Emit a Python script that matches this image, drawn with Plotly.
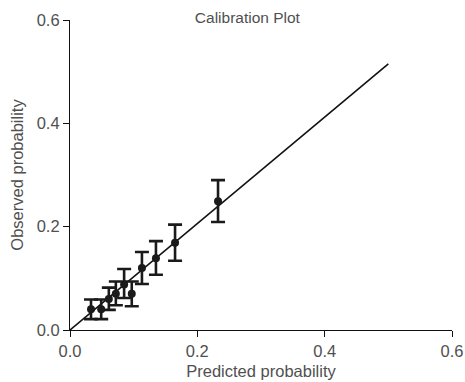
import plotly.graph_objects as go

pred = [0.033, 0.049, 0.061, 0.072, 0.085, 0.097, 0.113, 0.135, 0.165, 0.2325]
obs = [0.040, 0.040, 0.060, 0.070, 0.088, 0.070, 0.120, 0.139, 0.169, 0.249]
err_up = [0.019, 0.019, 0.022, 0.024, 0.030, 0.024, 0.031, 0.033, 0.035, 0.041]
err_down = [0.019, 0.019, 0.021, 0.022, 0.026, 0.024, 0.031, 0.032, 0.035, 0.040]
fit_x = [0.0, 0.5]
fit_y = [0.0, 0.515]
ticks = [0.0, 0.2, 0.4, 0.6]
tick_text = ["0.0", "0.2", "0.4", "0.6"]

fig = go.Figure()
fig.add_trace(go.Scatter(x=fit_x, y=fit_y, mode="lines",
                         line=dict(color="#111111", width=1.6),
                         showlegend=False, hoverinfo="skip"))
fig.add_trace(go.Scatter(
    x=pred, y=obs, mode="markers",
    marker=dict(color="#1a1a1a", size=8),
    error_y=dict(type="data", symmetric=False, array=err_up, arrayminus=err_down,
                 color="#1a1a1a", thickness=2.6, width=7),
    showlegend=False, cliponaxis=False))

fig.update_layout(
    width=465, height=382,
    margin=dict(l=70, r=13, t=20, b=52),
    paper_bgcolor="white", plot_bgcolor="white",
    font=dict(family="Liberation Sans, Arial, sans-serif", color="#505050", size=16),
    title=dict(text="Calibration Plot", x=0.532, xanchor="center", y=0.955, yanchor="middle",
               font=dict(size=15.5, color="#505050")),
    xaxis=dict(range=[0, 0.6], tickvals=ticks, ticktext=tick_text,
               showline=True, linecolor="#111111", linewidth=1.2,
               ticks="outside", ticklen=6, tickcolor="#111111",
               showgrid=False, zeroline=False, automargin=False,
               title=dict(text="Predicted probability", standoff=6, font=dict(size=16.5)),
               tickfont=dict(size=16.5)),
    yaxis=dict(range=[0, 0.6], tickvals=ticks, ticktext=tick_text,
               showline=True, linecolor="#111111", linewidth=1.2,
               ticks="outside", ticklen=6, tickcolor="#111111",
               showgrid=False, zeroline=False, automargin=False,
               title=dict(text="Observed probability", standoff=8, font=dict(size=16.5)),
               tickfont=dict(size=16.5)),
)

fig.write_html("out.html")
